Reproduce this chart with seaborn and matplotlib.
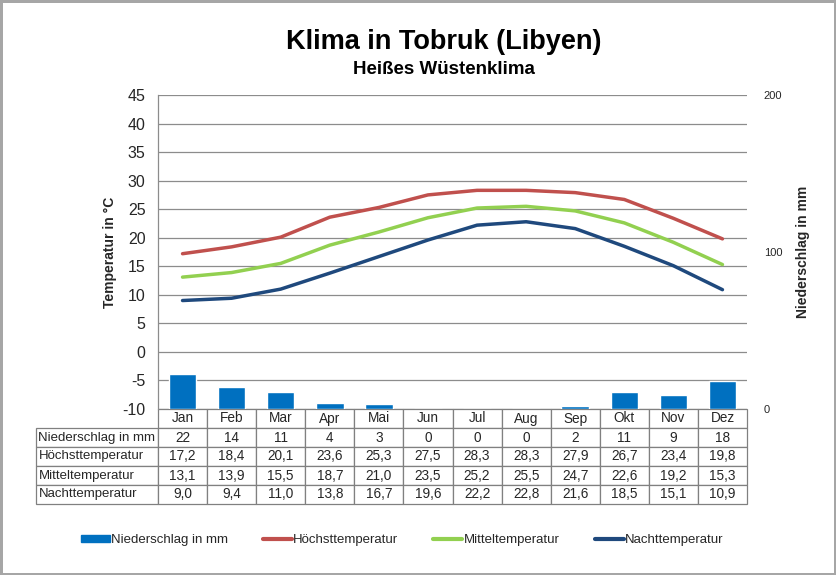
import numpy as np
import pandas as pd
import matplotlib
matplotlib.use("Agg")
import matplotlib.pyplot as plt
import seaborn as sns
from matplotlib.patches import Patch
from matplotlib.lines import Line2D

# Klimadaten Tobruk
months = ["Jan", "Feb", "Mar", "Apr", "Mai", "Jun",
          "Jul", "Aug", "Sep", "Okt", "Nov", "Dez"]
niederschlag = [22, 14, 11, 4, 3, 0, 0, 0, 2, 11, 9, 18]
hoechst = [17.2, 18.4, 20.1, 23.6, 25.3, 27.5, 28.3, 28.3, 27.9, 26.7, 23.4, 19.8]
mittel = [13.1, 13.9, 15.5, 18.7, 21.0, 23.5, 25.2, 25.5, 24.7, 22.6, 19.2, 15.3]
nacht = [9.0, 9.4, 11.0, 13.8, 16.7, 19.6, 22.2, 22.8, 21.6, 18.5, 15.1, 10.9]

row_labels = ["Niederschlag in mm", "Höchsttemperatur",
              "Mitteltemperatur", "Nachttemperatur"]

c_bar = "#0070C0"
c_high = "#C0504D"
c_mid = "#92D050"
c_night = "#1F497D"
c_grid = "#8C8C8C"

sns.set_style("white")
plt.rcParams["font.family"] = ["Liberation Sans", "DejaVu Sans"]
plt.rcParams["axes.unicode_minus"] = False

df = pd.DataFrame({
    "pos": np.arange(len(months)),
    "Monat": months,
    "Niederschlag": niederschlag,
    "Hoechst": hoechst,
    "Mittel": mittel,
    "Nacht": nacht,
})

fig = plt.figure(figsize=(8.36, 5.75), dpi=100)
fig.patch.set_edgecolor("#A6A6A6")
fig.patch.set_linewidth(2.5)

ax = fig.add_axes([158 / 836, 166 / 575, 589 / 836, 314 / 575])
ax2 = ax.twinx()

# Niederschlag (rechte Achse)
sns.barplot(data=df, x="pos", y="Niederschlag", color=c_bar, width=0.56,
            saturation=1, ax=ax2, native_scale=True)
ax2.set_ylim(0, 200)
ax2.set_yticks([0, 100, 200])
ax2.set_ylabel("Niederschlag in mm", fontsize=10, fontweight="bold",
               labelpad=10)
ax2.tick_params(axis="y", length=0, pad=12, labelsize=8)

# Temperaturen (linke Achse)
for col, colr in [("Hoechst", c_high), ("Mittel", c_mid), ("Nacht", c_night)]:
    sns.lineplot(data=df, x="pos", y=col, color=colr, linewidth=2.5,
                 ax=ax, solid_capstyle="round")
ax.set_ylim(-10, 45)
ax.set_yticks(np.arange(-10, 46, 5))
ax.set_xlim(-0.5, 11.5)
ax2.set_xlim(-0.5, 11.5)
ax.yaxis.grid(True, color=c_grid, linewidth=0.9)
ax.tick_params(axis="y", length=0, pad=9, labelsize=11.5)
ax.set_ylabel("Temperatur in °C", fontsize=10, fontweight="bold", labelpad=4)
ax.set_xlabel("")
ax2.set_xlabel("")
ax.set_xticks([])
ax2.set_xticks([])

for a in (ax, ax2):
    for s in ["top", "right", "bottom"]:
        a.spines[s].set_visible(False)
ax2.spines["left"].set_visible(False)
ax.spines["left"].set_color(c_grid)
ax.spines["left"].set_linewidth(0.9)

# Datentabelle unter dem Diagramm
cell_text = [[""] + months]
rows = [niederschlag,
        [f"{v:.1f}".replace(".", ",") for v in hoechst],
        [f"{v:.1f}".replace(".", ",") for v in mittel],
        [f"{v:.1f}".replace(".", ",") for v in nacht]]
for lab, vals in zip(row_labels, rows):
    cell_text.append([lab] + [str(v) for v in vals])

lab_w = 122 / 589
tbl = ax.table(cellText=cell_text,
               colWidths=[lab_w] + [1 / 12] * 12,
               cellLoc="center",
               bbox=[-lab_w, -95 / 314, 1 + lab_w, 95 / 314])
tbl.auto_set_font_size(False)
tbl.set_fontsize(9.5)
for (r, c), cell in tbl.get_celld().items():
    cell.set_edgecolor("#808080")
    cell.set_linewidth(0.9)
    cell.get_text().set_fontsize(9.8 if c > 0 else 9.5)
    if c == 0:
        cell.get_text().set_ha("left")
        cell.PAD = 0.02
        cell._loc = "left"
    if r == 0 and c == 0:
        cell.visible_edges = ""

# Titel
fig.text(444 / 836, 1 - 42 / 575, "Klima in Tobruk (Libyen)", ha="center",
         va="center", fontsize=19.5, fontweight="bold", color="black")
fig.text(444 / 836, 1 - 70 / 575, "Heißes Wüstenklima", ha="center",
         va="center", fontsize=13.5, fontweight="bold", color="black")

# Legende
handles = [
    Patch(facecolor=c_bar, edgecolor=c_bar),
    Line2D([], [], color=c_high, linewidth=3),
    Line2D([], [], color=c_mid, linewidth=3),
    Line2D([], [], color=c_night, linewidth=3),
]
labels = ["Niederschlag in mm", "Höchsttemperatur",
          "Mitteltemperatur", "Nachttemperatur"]
fig.legend(handles, labels, loc="center", bbox_to_anchor=(402 / 836, 1 - 540 / 575),
           ncol=4, frameon=False, fontsize=9.5, handlelength=2.2,
           handleheight=0.5, handletextpad=0.1, columnspacing=2.65)

fig.savefig("out.png", dpi=100)
